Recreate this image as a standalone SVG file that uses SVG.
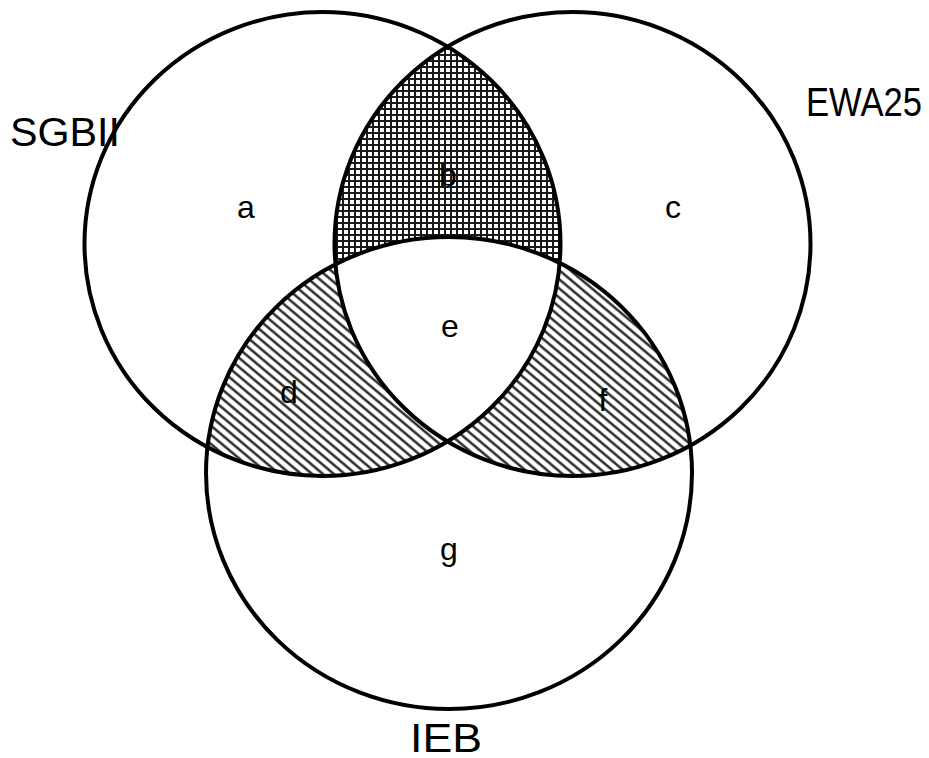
<svg xmlns="http://www.w3.org/2000/svg" width="929" height="758" viewBox="0 0 929 758">
<style>
.ring{fill:none;stroke:#000;stroke-width:4}
.big{font-family:"Liberation Sans",Arial,sans-serif;font-size:40px;fill:#000}
.lbl{font-family:"Liberation Sans",Arial,sans-serif;font-size:32px;fill:#000;text-anchor:middle}
</style>
<defs>
<pattern id="grid" width="6" height="6" patternUnits="userSpaceOnUse">
<rect width="6" height="6" fill="#fff"/>
<path d="M0 1H6M1 0V6" stroke="#1a1a1a" stroke-width="2" fill="none"/>
</pattern>
<pattern id="diag" width="7" height="7" patternUnits="userSpaceOnUse" patternTransform="rotate(40)">
<rect width="7" height="7" fill="#fff"/>
<path d="M0 1.5H7" stroke="#1a1a1a" stroke-width="2.3" fill="none"/>
</pattern>
<clipPath id="cS"><ellipse cx="322.5" cy="244" rx="238" ry="232"/></clipPath>
<clipPath id="cE"><ellipse cx="572.5" cy="244" rx="238" ry="232"/></clipPath>
<clipPath id="cI"><ellipse cx="449" cy="473" rx="243" ry="236"/></clipPath>
</defs>
<rect width="929" height="758" fill="#fff"/>
<g id="regions">
<g clip-path="url(#cS)"><rect x="0" y="0" width="929" height="758" fill="url(#grid)" clip-path="url(#cE)"/></g>
<g clip-path="url(#cS)"><rect x="0" y="0" width="929" height="758" fill="url(#diag)" clip-path="url(#cI)"/></g>
<g clip-path="url(#cE)"><rect x="0" y="0" width="929" height="758" fill="url(#diag)" clip-path="url(#cI)"/></g>
<g clip-path="url(#cS)"><g clip-path="url(#cE)"><rect x="0" y="0" width="929" height="758" fill="#fff" clip-path="url(#cI)"/></g></g>
</g>
<g id="node-SGBII">
<ellipse class="ring" cx="322.5" cy="244" rx="238" ry="232"/>
<text class="big" x="10" y="146" textLength="110" lengthAdjust="spacingAndGlyphs">SGBII</text>
</g>
<g id="node-EWA25">
<ellipse class="ring" cx="572.5" cy="244" rx="238" ry="232"/>
<text class="big" x="806" y="116" textLength="116" lengthAdjust="spacingAndGlyphs">EWA25</text>
</g>
<g id="node-IEB">
<ellipse class="ring" cx="449" cy="473" rx="243" ry="236"/>
<text class="big" x="410" y="752" textLength="72" lengthAdjust="spacingAndGlyphs">IEB</text>
</g>
<g id="labels">
<text class="lbl" x="246" y="218">a</text>
<text class="lbl" x="448" y="186">b</text>
<text class="lbl" x="673" y="218">c</text>
<text class="lbl" x="289" y="403">d</text>
<text class="lbl" x="450" y="337">e</text>
<text class="lbl" x="603" y="411">f</text>
<text class="lbl" x="449" y="560">g</text>
</g>
</svg>
